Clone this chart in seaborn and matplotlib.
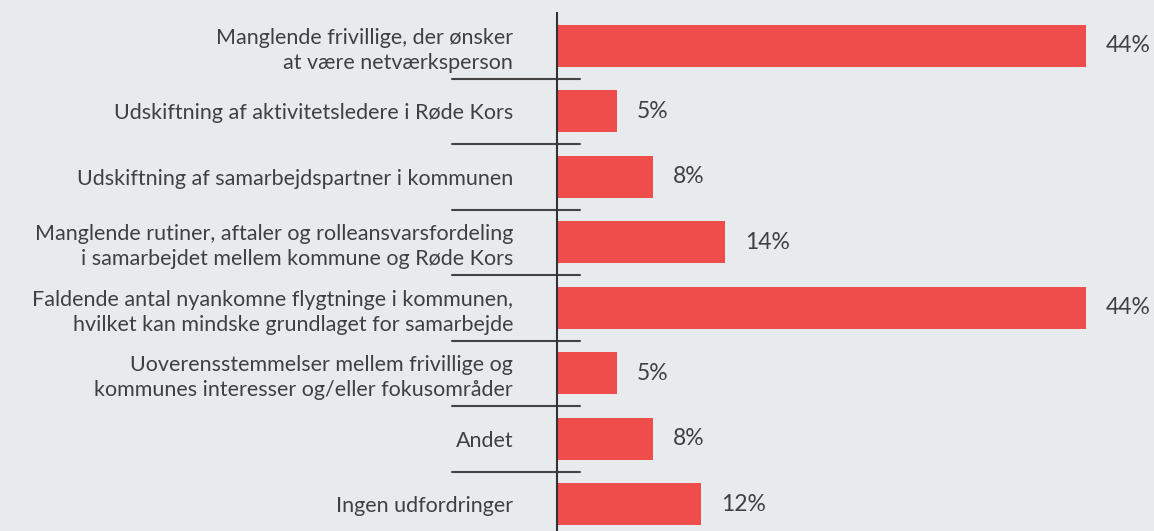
import matplotlib
matplotlib.use("Agg")
import matplotlib.pyplot as plt
import matplotlib.transforms as mtransforms
import seaborn as sns
import pandas as pd

# data
categories = [
    "Manglende frivillige, der ønsker\nat være netværksperson",
    "Udskiftning af aktivitetsledere i Røde Kors",
    "Udskiftning af samarbejdspartner i kommunen",
    "Manglende rutiner, aftaler og rolleansvarsfordeling\ni samarbejdet mellem kommune og Røde Kors",
    "Faldende antal nyankomne flygtninge i kommunen,\nhvilket kan mindske grundlaget for samarbejde",
    "Uoverensstemmelser mellem frivillige og\nkommunes interesser og/eller fokusområder",
    "Andet",
    "Ingen udfordringer",
]
values = [44, 5, 8, 14, 44, 5, 8, 12]

bg = "#e8ebee"
bar_color = "#ef4c4c"
text_color = "#404040"

sns.set_style("white")
plt.rcParams["font.family"] = ["Lato", "DejaVu Sans"]

df = pd.DataFrame({"label": categories, "value": values})

fig = plt.figure(figsize=(11.54, 5.31), dpi=100, facecolor=bg)
ax = fig.add_axes([557 / 1154, -6 / 531, 597 / 1154, 524 / 531])
ax.set_facecolor(bg)

sns.barplot(data=df, y="label", x="value", orient="h", color=bar_color,
            width=0.64, saturation=1, linewidth=0, ax=ax)

ax.set_xlim(0, 49.66)
ax.set_ylim(len(categories) - 0.5, -0.5)
ax.set_xlabel("")
ax.set_ylabel("")
ax.set_xticks([])

for s in ["top", "right", "bottom"]:
    ax.spines[s].set_visible(False)
ax.spines["left"].set_color("#333333")
ax.spines["left"].set_linewidth(1.5)

ax.tick_params(axis="y", length=0, pad=31.5)
for lbl in ax.get_yticklabels():
    lbl.set_fontsize(15.5)
    lbl.set_fontweight("normal")
    lbl.set_color(text_color)
    lbl.set_horizontalalignment("right")
    lbl.set_multialignment("right")
    lbl.set_linespacing(1.32)

# separators between rows
trans = mtransforms.blended_transform_factory(ax.transAxes, ax.transData)
for i in range(len(categories) - 1):
    ax.plot([-105 / 597, 23 / 597], [i + 0.5, i + 0.5], transform=trans,
            color="#444444", lw=1.5, clip_on=False)

ax.bar_label(ax.containers[0], labels=[f"{v}%" for v in values], padding=14,
             fontsize=16.5, fontweight="normal", color=text_color)

fig.savefig("out.png", dpi=100, facecolor=bg)
